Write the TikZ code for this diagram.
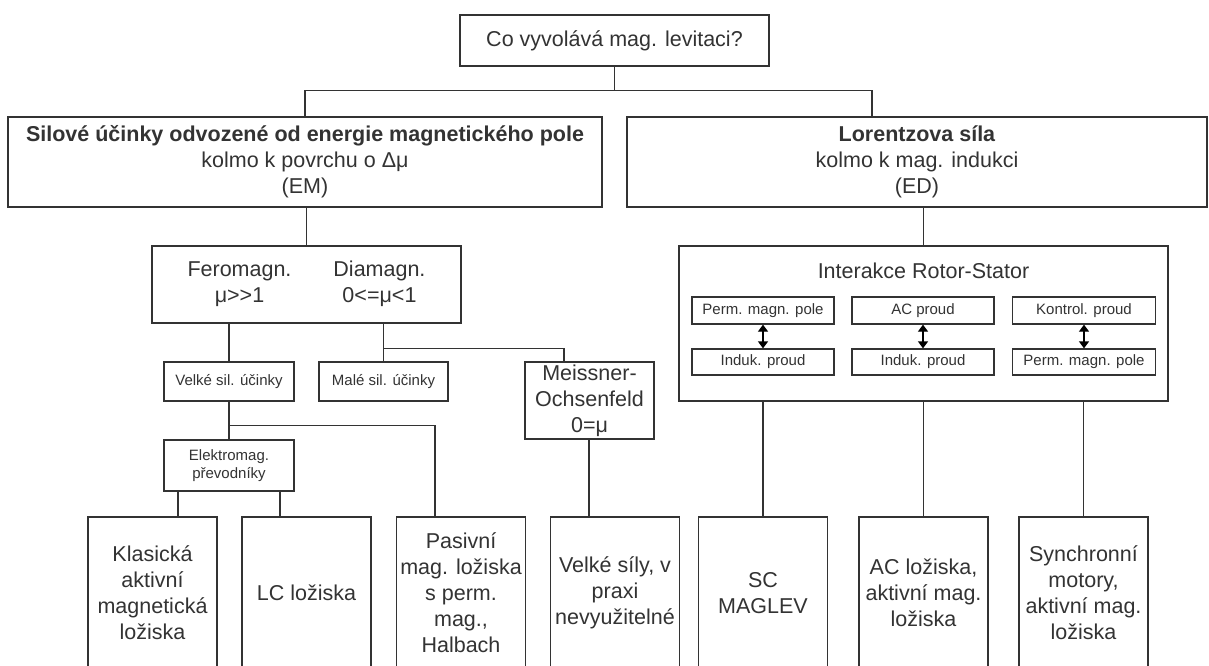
\documentclass[tikz,border=0pt]{standalone}
\usepackage{fontspec}
\setmainfont{Liberation Sans}
\usetikzlibrary{arrows.meta,calc}
\newcommand\fsL{\fontsize{21.5}{26}\selectfont}
\newcommand\fsS{\fontsize{15}{18}\selectfont}
\begin{document}
\begin{tikzpicture}[x=1pt,y=-1pt,
  box/.style={draw=black!80, line width=1.3pt, fill=white, inner sep=0pt, align=center, text=black!80},
  bigtxt/.style={font=\fsL},
  smtxt/.style={font=\fsS},
  wire/.style={draw=black!80, line width=1.3pt},
  dbl/.style={draw=black, line width=1.3pt, {Triangle[width=10pt,length=7pt]}-{Triangle[width=10pt,length=7pt]}},
  leaf/.style={box, bigtxt, minimum width=129pt, minimum height=152pt}]
\useasboundingbox (0,0) rectangle (1209,666);
\fill[white] (0,0) rectangle (1209,666);
\clip (0,0) rectangle (1209,666);

% top
\node[box,bigtxt,minimum width=309pt,minimum height=51pt] (top) at (614.5,40.5) {Co vyvolává mag. levitaci?};
\node[box,bigtxt,minimum width=594pt,minimum height=90pt] (em) at (305,162)
  {\textbf{Silové účinky odvozené od energie magnetického pole}\\kolmo k povrchu o Δμ\\(EM)};
\node[box,bigtxt,minimum width=580pt,minimum height=90pt] (ed) at (917,162)
  {\textbf{Lorentzova síla}\\kolmo k mag. indukci\\(ED)};

% left branch
\node[box,bigtxt,minimum width=309pt,minimum height=77pt] (fero) at (306.5,284.5)
  {\begin{tabular}{@{}c@{\hspace{42pt}}c@{}}Feromagn. & Diamagn.\\ μ>\kern0pt>1 & 0<=μ<1\end{tabular}};
\node[box,smtxt,minimum width=130pt,minimum height=39pt] (velke) at (229,381.5) {Velké sil. účinky};
\node[box,smtxt,minimum width=129pt,minimum height=39pt] (male) at (383.5,381.5) {Malé sil. účinky};
\node[box,bigtxt,minimum width=129pt,minimum height=77pt] (meis) at (589.5,400.5) {Meissner-\\Ochsenfeld\\0=μ};
\node[box,smtxt,minimum width=130pt,minimum height=51pt] (elmag) at (229,465.5) {Elektromag.\\převodníky};

% right branch
\node[box,minimum width=489pt,minimum height=155pt] (inter) at (923.5,323.5) {};
\node[bigtxt,text=black!80,inner sep=0pt] (intertitle) at (923.5,271) {Interakce Rotor-Stator};
\node[box,smtxt,minimum width=142pt,minimum height=27pt] (a1) at (763,310.5) {Perm. magn. pole};
\node[box,smtxt,minimum width=142pt,minimum height=26pt] (b1) at (763,362) {Induk. proud};
\node[box,smtxt,minimum width=142pt,minimum height=27pt] (a2) at (923,310.5) {AC proud};
\node[box,smtxt,minimum width=142pt,minimum height=26pt] (b2) at (923,362) {Induk. proud};
\node[box,smtxt,minimum width=143pt,minimum height=27pt] (a3) at (1084,310.5) {Kontrol. proud};
\node[box,smtxt,minimum width=143pt,minimum height=26pt] (b3) at (1084,362) {Perm. magn. pole};
\draw[dbl] (a1.south) -- (b1.north);
\draw[dbl] (a2.south) -- (b2.north);
\draw[dbl] (a3.south) -- (b3.north);

% leaves
\node[leaf] (klas) at (152.5,593) {Klasická\\aktivní\\magnetická\\ložiska};
\node[leaf] (lc) at (306.5,593) {LC ložiska};
\node[leaf] (pas) at (461,593) {Pasivní\\mag. ložiska\\s perm.\\mag.,\\Halbach};
\node[leaf] (vs) at (615,593) {Velké síly, v\\praxi\\nevyužitelné};
\node[leaf] (sc) at (763,593) {SC\\MAGLEV};
\node[leaf] (ac) at (923.5,593) {AC ložiska,\\aktivní mag.\\ložiska};
\node[leaf] (syn) at (1083.5,593) {Synchronní\\motory,\\aktivní mag.\\ložiska};

% connectors
\draw[wire] (top.south) |- ([yshift=26pt]em.north) -- (em.north);
\draw[wire] (top.south) |- ([xshift=-45pt,yshift=26pt]ed.north) -- ([xshift=-45pt]ed.north);
\draw[wire] (fero.north) -- (fero.north |- em.south);
\draw[wire] (inter.north) -- (inter.north |- ed.south);
\draw[wire] (velke.north) -- (velke.north |- fero.south);
\draw[wire] (male.north) -- (male.north |- fero.south);
\draw[wire] (male.north |- fero.south) |- ([xshift=-25.5pt,yshift=13pt]meis.north) -- ([xshift=-25.5pt]meis.north);
\draw[wire] (velke.south) -- (elmag.north);
\draw[wire] (velke.south) |- ([xshift=-26pt,yshift=91pt]pas.north) -- ([xshift=-26pt]pas.north);
\draw[wire] ([xshift=25.5pt]klas.north |- elmag.south) -- ([xshift=25.5pt]klas.north);
\draw[wire] ([xshift=-26.5pt]lc.north |- elmag.south) -- ([xshift=-26.5pt]lc.north);
\draw[wire] ([xshift=-26pt]vs.north |- meis.south) -- ([xshift=-26pt]vs.north);
\draw[wire] (sc.north |- inter.south) -- (sc.north);
\draw[wire] (ac.north |- inter.south) -- (ac.north);
\draw[wire] (syn.north |- inter.south) -- (syn.north);
\end{tikzpicture}
\end{document}
